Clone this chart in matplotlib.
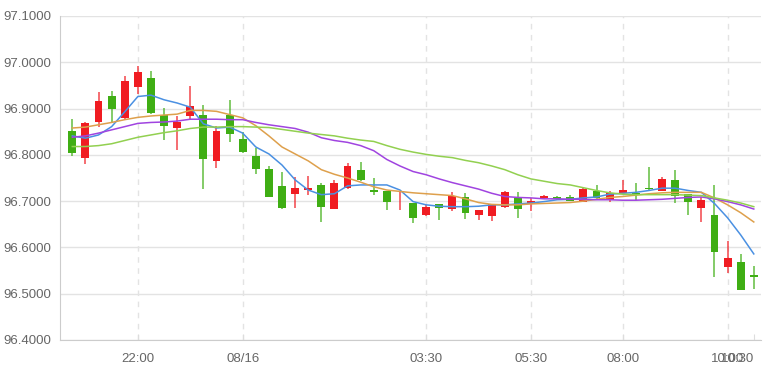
import numpy as np
import matplotlib
matplotlib.use('Agg')
import matplotlib.pyplot as plt

# 15-minute candles
opens = [96.852, 96.794, 96.871, 96.927, 96.879, 96.947, 96.967, 96.886, 96.858, 96.883,
         96.886, 96.786, 96.886, 96.835, 96.798, 96.770, 96.732, 96.716, 96.724, 96.734,
         96.683, 96.728, 96.768, 96.724, 96.721, 96.695, 96.696, 96.670, 96.694, 96.683,
         96.710, 96.669, 96.668, 96.688, 96.707, 96.694, 96.707, 96.710, 96.708, 96.699,
         96.721, 96.703, 96.717, 96.717, 96.729, 96.721, 96.746, 96.715, 96.685, 96.670,
         96.557, 96.568, 96.541]
highs = [96.877, 96.872, 96.935, 96.939, 96.971, 96.991, 96.981, 96.901, 96.884, 96.949,
         96.908, 96.862, 96.919, 96.850, 96.814, 96.776, 96.763, 96.753, 96.755, 96.739,
         96.746, 96.782, 96.784, 96.750, 96.721, 96.721, 96.696, 96.692, 96.694, 96.719,
         96.717, 96.681, 96.693, 96.721, 96.719, 96.707, 96.714, 96.712, 96.714, 96.728,
         96.735, 96.721, 96.745, 96.739, 96.773, 96.753, 96.768, 96.715, 96.708, 96.734,
         96.613, 96.586, 96.560]
lows = [96.798, 96.781, 96.861, 96.870, 96.877, 96.932, 96.888, 96.832, 96.811, 96.876,
        96.726, 96.771, 96.828, 96.804, 96.759, 96.709, 96.683, 96.685, 96.714, 96.655,
        96.682, 96.727, 96.744, 96.714, 96.681, 96.680, 96.653, 96.667, 96.660, 96.678,
        96.662, 96.660, 96.658, 96.686, 96.663, 96.678, 96.705, 96.703, 96.700, 96.698,
        96.705, 96.699, 96.717, 96.703, 96.721, 96.721, 96.696, 96.670, 96.654, 96.537,
        96.545, 96.509, 96.510]
closes = [96.805, 96.868, 96.917, 96.899, 96.960, 96.978, 96.890, 96.863, 96.871, 96.906,
          96.792, 96.851, 96.845, 96.807, 96.770, 96.710, 96.686, 96.729, 96.728, 96.687,
          96.740, 96.775, 96.745, 96.719, 96.699, 96.697, 96.664, 96.688, 96.685, 96.712,
          96.674, 96.681, 96.693, 96.719, 96.683, 96.701, 96.712, 96.704, 96.701, 96.727,
          96.707, 96.717, 96.724, 96.716, 96.727, 96.748, 96.712, 96.698, 96.703, 96.590,
          96.577, 96.509, 96.537]

ma5 = [96.841, 96.836, 96.843, 96.861, 96.893, 96.926, 96.929, 96.919, 96.912, 96.903,
       96.867, 96.858, 96.860, 96.847, 96.817, 96.802, 96.778, 96.746, 96.724, 96.714,
       96.716, 96.733, 96.735, 96.735, 96.735, 96.724, 96.699, 96.692, 96.689, 96.688,
       96.688, 96.689, 96.692, 96.692, 96.694, 96.696, 96.699, 96.703, 96.704, 96.707,
       96.709, 96.715, 96.717, 96.719, 96.723, 96.728, 96.728, 96.723, 96.719, 96.695,
       96.664, 96.627, 96.586]
ma10 = [96.858, 96.860, 96.865, 96.870, 96.876, 96.881, 96.884, 96.886, 96.888, 96.896,
        96.896, 96.894, 96.887, 96.880, 96.863, 96.841, 96.817, 96.802, 96.787, 96.768,
        96.758, 96.750, 96.741, 96.731, 96.724, 96.721, 96.718, 96.716, 96.714, 96.712,
        96.705, 96.697, 96.693, 96.692, 96.692, 96.694, 96.695, 96.696, 96.697, 96.700,
        96.704, 96.708, 96.710, 96.713, 96.716, 96.718, 96.719, 96.719, 96.719, 96.707,
        96.692, 96.675, 96.655]
ma20 = [96.838, 96.841, 96.847, 96.854, 96.861, 96.868, 96.870, 96.871, 96.873, 96.877,
        96.877, 96.877, 96.876, 96.876, 96.870, 96.865, 96.861, 96.857, 96.849, 96.837,
        96.831, 96.827, 96.820, 96.809, 96.790, 96.776, 96.764, 96.757, 96.748, 96.740,
        96.733, 96.726, 96.717, 96.710, 96.708, 96.707, 96.705, 96.705, 96.704, 96.704,
        96.703, 96.703, 96.702, 96.702, 96.703, 96.704, 96.706, 96.708, 96.709, 96.705,
        96.699, 96.692, 96.683]
ma30 = [96.818, 96.818, 96.820, 96.824, 96.831, 96.838, 96.843, 96.848, 96.852, 96.857,
        96.860, 96.860, 96.861, 96.861, 96.860, 96.859, 96.855, 96.851, 96.847, 96.844,
        96.841, 96.836, 96.832, 96.829, 96.820, 96.812, 96.806, 96.801, 96.797, 96.794,
        96.788, 96.783, 96.776, 96.768, 96.757, 96.748, 96.743, 96.738, 96.735, 96.729,
        96.723, 96.718, 96.715, 96.714, 96.714, 96.714, 96.714, 96.713, 96.712, 96.707,
        96.702, 96.696, 96.688]

tick_idx = [5, 13, 27, 35, 42, 50, 52]
tick_labels = ['22:00', '08/16', '03:30', '05:30', '08:00', '10:00', '10:30']
y_ticks = [96.4, 96.5, 96.6, 96.7, 96.8, 96.9, 97.0, 97.1]

up_color = '#f01c22'
down_color = '#3fae14'
ma_colors = ['#4a90e2', '#dea04c', '#a044e0', '#92d050']

plt.rcParams['font.family'] = ['Liberation Sans', 'DejaVu Sans']

fig = plt.figure(figsize=(7.67, 3.67), dpi=100)
ax = fig.add_axes([60 / 767, 27 / 367, 701 / 767, 324 / 367])

o = np.array(opens)
c = np.array(closes)
h = np.array(highs)
l = np.array(lows)
x = np.arange(len(o))
colors = np.where(c >= o, up_color, down_color)

# horizontal grid
for v in y_ticks:
    ax.axhline(v, color='#e3e3e3', lw=1, zorder=0)
# dashed vertical grid at labelled times
for t in tick_idx[:-1]:
    ax.axvline(t, color='#e3e3e3', lw=1, ls=(0, (4, 4)), zorder=0)

ax.vlines(x, l, h, colors=colors, lw=1.2, zorder=2, alpha=0.75)
body = np.maximum(np.abs(c - o), 0.0015)
ax.bar(x, body, bottom=np.minimum(o, c), width=0.6, color=colors, zorder=3)

for series, col in zip([ma5, ma10, ma20, ma30], ma_colors):
    ax.plot(x, series, color=col, lw=1.1, zorder=4)

ax.set_xlim(-0.94, 52.55)
ax.set_ylim(96.4, 97.1)
ax.set_yticks(y_ticks)
ax.set_yticklabels([f'{v:.4f}' for v in y_ticks])
ax.set_xticks(tick_idx)
ax.set_xticklabels(tick_labels)
ax.get_xticklabels()[-1].set_ha('right')
ax.get_xticklabels()[-1].set_x(52.55)

for s in ['top', 'right']:
    ax.spines[s].set_visible(False)
ax.spines['left'].set_color('#cccccc')
ax.spines['bottom'].set_color('#cccccc')
ax.tick_params(axis='y', length=0, pad=6, labelsize=9.5, labelcolor='#666666')
ax.tick_params(axis='x', direction='in', length=4, color='#dddddd', pad=9,
               labelsize=9.5, labelcolor='#666666')

fig.savefig('out.png', dpi=100)
